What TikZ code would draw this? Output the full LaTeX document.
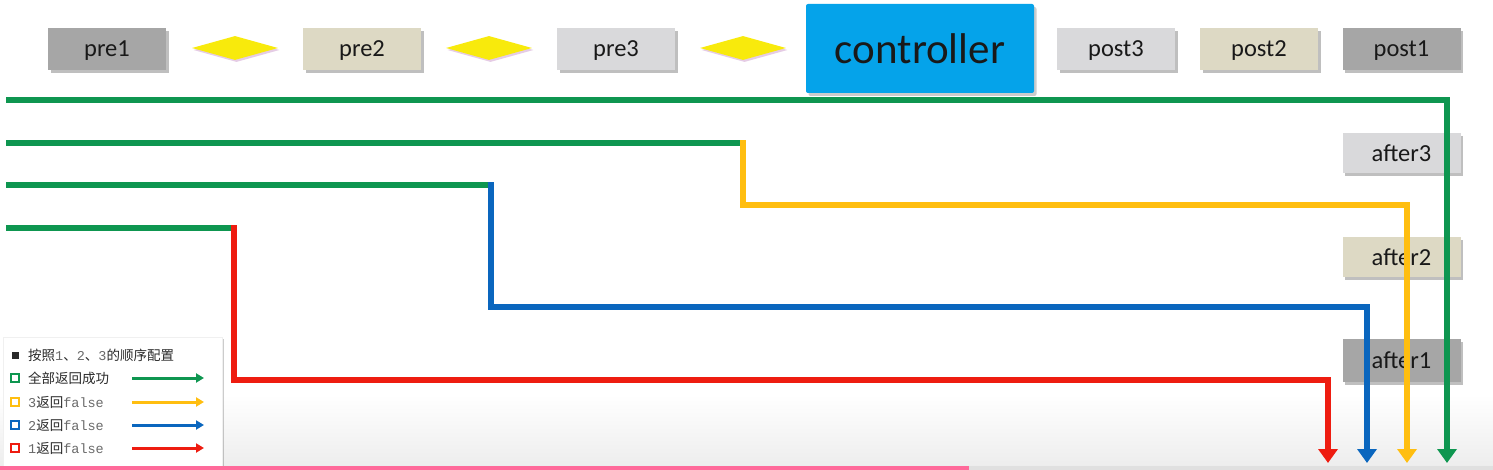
\documentclass[tikz,border=0pt]{standalone}
\usepackage{fontspec}
\setmainfont{Carlito}
\newfontfamily\cjk{Noto Sans CJK SC}
\newfontfamily\mono{Liberation Mono}
\usetikzlibrary{shapes.geometric,arrows.meta,shadows}
\definecolor{cgray}{HTML}{A6A6A6}
\definecolor{cbeige}{HTML}{DDD9C4}
\definecolor{clight}{HTML}{D9D9DB}
\definecolor{cblue}{HTML}{05A3EA}
\definecolor{cyel}{HTML}{F8EA0C}
\definecolor{lgreen}{HTML}{0E9650}
\definecolor{lorange}{HTML}{FFBE10}
\definecolor{lblue}{HTML}{0A66BE}
\definecolor{lred}{HTML}{EE1C10}
\definecolor{cpink}{HTML}{FF6A9A}
\definecolor{ltext}{HTML}{2A2A2A}
\definecolor{lmono}{HTML}{6A6A6A}
\tikzset{
  stagebox/.style={rectangle, minimum width=118pt, minimum height=42pt, inner sep=0pt,
    font=\fontsize{24.5}{24.5}\selectfont, text=black!90, text depth=0pt,
    drop shadow={shadow xshift=2.5pt, shadow yshift=-3pt, opacity=0.25, fill=black}},
  gem/.style={diamond, aspect=3.6, minimum width=86pt, minimum height=24pt, inner sep=0pt, fill=cyel,
    drop shadow={shadow xshift=1.5pt, shadow yshift=-2pt, opacity=0.2, fill=violet}},
  flow/.style={line width=5.2pt, line join=miter},
  tip/.style={-{Triangle[width=19pt,length=14pt]}},
  legarrow/.style={line width=3pt, -{Triangle[width=9pt,length=8pt]}},
  legtext/.style={anchor=west, inner sep=0pt, text=ltext, font=\fontsize{13.5}{13.5}\selectfont},
  legsq/.style={draw, line width=1.8pt, minimum size=8pt, inner sep=0pt, fill=white},
}
\begin{document}
\begin{tikzpicture}[x=1pt,y=-1pt]
\useasboundingbox (0,0) rectangle (1493,470);
\fill[white] (0,0) rectangle (1493,470);
\shade[top color=white, bottom color=black!7] (0,395) rectangle (1493,466);

% top row
\node[stagebox, fill=cgray] (pre1) at (107,49) {pre1};
\node[gem] (d1) at (235,48) {};
\node[stagebox, fill=cbeige] (pre2) at (362,49) {pre2};
\node[gem] (d2) at (489,48) {};
\node[stagebox, fill=clight] (pre3) at (616,49) {pre3};
\node[gem] (d3) at (743,48) {};
\node[rectangle, fill=cblue, minimum width=228pt, minimum height=89pt, inner sep=0pt,
  rounded corners=2pt, font=\fontsize{43}{43}\selectfont, text=black!90,
  drop shadow={shadow xshift=2.5pt, shadow yshift=-3pt, opacity=0.2, fill=black}] (ctrl) at (920,48.5) {controller};
\node[stagebox, fill=clight] (post3) at (1116,49) {post3};
\node[stagebox, fill=cbeige] (post2) at (1259,49) {post2};
\node[stagebox, fill=cgray] (post1) at (1401.5,49) {post1};

% after boxes
\node[stagebox, fill=clight, minimum height=40pt] (after3) at (1401.5,153) {after3};
\node[stagebox, fill=cbeige, minimum height=40pt] (after2) at (1401.5,257) {after2};
\node[stagebox, fill=cgray, minimum height=43pt] (after1) at (1401.5,360.5) {after1};

% flow coordinates
\coordinate (s1) at (6,100);
\coordinate (e1) at (1447,463);
\coordinate (s2) at (6,143);
\coordinate (k2) at (743,143);
\coordinate (k2t) at (743,140.4);
\coordinate (m2) at (1407,205);
\coordinate (e2) at (1407,463);
\coordinate (s3) at (6,185);
\coordinate (k3) at (491,185);
\coordinate (k3t) at (491,182.4);
\coordinate (m3) at (1367,307);
\coordinate (e3) at (1367,463);
\coordinate (s4) at (6,228);
\coordinate (k4) at (234,228);
\coordinate (k4t) at (234,225.4);
\coordinate (m4) at (1328,380);
\coordinate (e4) at (1328,463);

\draw[flow, lgreen, tip] (s1) -| (e1);
\draw[flow, lgreen] (s2) -- (k2);
\draw[flow, lorange, tip] (k2t) |- (m2) -- (e2);
\draw[flow, lgreen] (s3) -- (k3);
\draw[flow, lblue, tip] (k3t) |- (m3) -- (e3);
\draw[flow, lgreen] (s4) -- (k4);
\draw[flow, lred, tip] (k4t) |- (m4) -- (e4);

% legend
\node[rectangle, fill=white, draw=black!6, minimum width=219pt, minimum height=130pt, inner sep=0pt,
  drop shadow={shadow xshift=1.5pt, shadow yshift=-1.5pt, opacity=0.2, fill=black}] (legend) at (112.5,402) {};
\node[rectangle, fill=ltext, minimum size=7pt, inner sep=0pt] (q0) at (15,355) {};
\node[legtext] (t0) at (28,355) {\cjk 按照{\mono\color{lmono}1}、{\mono\color{lmono}2}、{\mono\color{lmono}3}的顺序配置};
\node[legsq, draw=lgreen] (q1) at (15,378) {};
\node[legtext] (t1) at (28,378) {\cjk 全部返回成功};
\node[legsq, draw=lorange] (q2) at (15,402) {};
\node[legtext] (t2) at (28,402) {{\mono\color{lmono}3}\cjk 返回{\mono\color{lmono}false}};
\node[legsq, draw=lblue] (q3) at (15,425) {};
\node[legtext] (t3) at (28,425) {{\mono\color{lmono}2}\cjk 返回{\mono\color{lmono}false}};
\node[legsq, draw=lred] (q4) at (15,448) {};
\node[legtext] (t4) at (28,448) {{\mono\color{lmono}1}\cjk 返回{\mono\color{lmono}false}};
\coordinate (a1s) at (132,378); \coordinate (a1e) at (204,378);
\coordinate (a2s) at (132,402); \coordinate (a2e) at (204,402);
\coordinate (a3s) at (132,425); \coordinate (a3e) at (204,425);
\coordinate (a4s) at (132,448); \coordinate (a4e) at (204,448);
\draw[legarrow, lgreen] (a1s) -- (a1e);
\draw[legarrow, lorange] (a2s) -- (a2e);
\draw[legarrow, lblue] (a3s) -- (a3e);
\draw[legarrow, lred] (a4s) -- (a4e);

% progress bar
\fill[black!12] (969,466) rectangle (1493,470);
\fill[cpink] (0,466) rectangle (969,470);
\end{tikzpicture}
\end{document}
